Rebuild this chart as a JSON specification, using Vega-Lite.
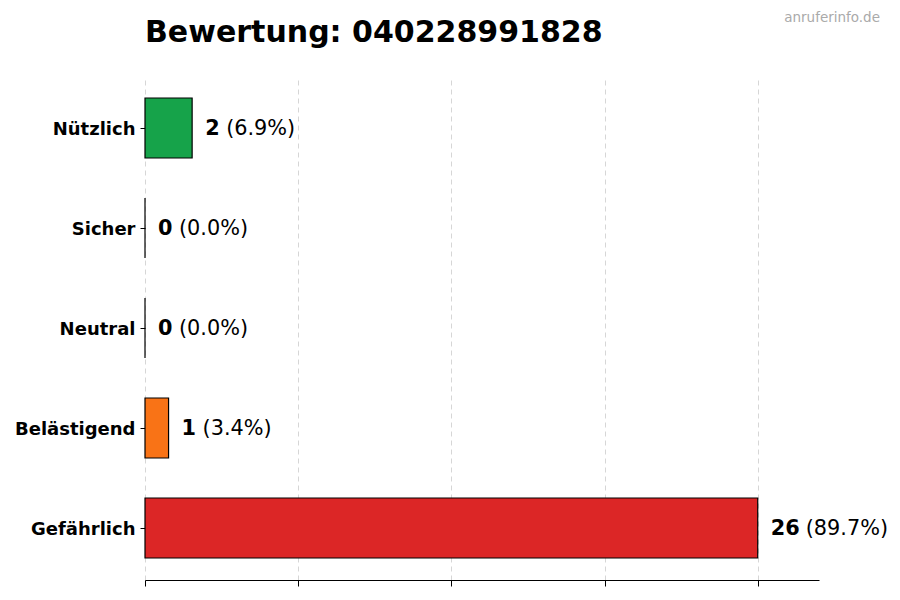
{
  "$schema": "https://vega.github.io/schema/vega-lite/v6.json",
  "width": 674,
  "height": 504,
  "autosize": {"type": "none"},
  "padding": {"left": 145, "top": 76, "right": 81, "bottom": 20},
  "background": "white",
  "title": {
    "text": "Bewertung: 040228991828",
    "anchor": "start",
    "frame": "group",
    "baseline": "alphabetic",
    "offset": 0,
    "dy": 61,
    "font": "DejaVu Sans",
    "fontSize": 30,
    "fontWeight": "bold",
    "color": "black"
  },
  "data": {
    "values": [
      {"kategorie": "Nützlich", "anzahl": 2, "anteil": "(6.9%)"},
      {"kategorie": "Sicher", "anzahl": 0, "anteil": "(0.0%)"},
      {"kategorie": "Neutral", "anzahl": 0, "anteil": "(0.0%)"},
      {"kategorie": "Belästigend", "anzahl": 1, "anteil": "(3.4%)"},
      {"kategorie": "Gefährlich", "anzahl": 26, "anteil": "(89.7%)"}
    ]
  },
  "encoding": {
    "y": {
      "field": "kategorie",
      "type": "nominal",
      "sort": ["Nützlich", "Sicher", "Neutral", "Belästigend", "Gefährlich"],
      "scale": {"paddingInner": 0.4, "paddingOuter": 0.22},
      "axis": {
        "title": null,
        "domain": false,
        "grid": false,
        "ticks": true,
        "tickSize": 5,
        "tickColor": "black",
        "labelPadding": 5,
        "labelFont": "DejaVu Sans",
        "labelFontSize": 18,
        "labelFontWeight": "bold",
        "labelColor": "black",
        "labelBaseline": "middle",
        "labelOffset": 1.5
      }
    },
    "x": {
      "field": "anzahl",
      "type": "quantitative",
      "scale": {"domain": [0, 28.6], "nice": false, "zero": true},
      "axis": {
        "title": null,
        "values": [0, 6.5, 13, 19.5, 26],
        "labels": false,
        "domain": true,
        "domainColor": "black",
        "domainWidth": 1,
        "ticks": true,
        "tickColor": "black",
        "tickSize": 6,
        "grid": true,
        "gridColor": "#cccccc",
        "gridDash": [5, 4],
        "gridWidth": 0.8
      }
    }
  },
  "layer": [
    {
      "mark": {"type": "bar", "stroke": "black", "strokeWidth": 1.2},
      "encoding": {
        "color": {
          "field": "kategorie",
          "type": "nominal",
          "legend": null,
          "scale": {
            "domain": ["Nützlich", "Sicher", "Neutral", "Belästigend", "Gefährlich"],
            "range": ["#16a34a", "#2563eb", "#9ca3af", "#f97316", "#dc2626"]
          }
        }
      }
    },
    {
      "mark": {"type": "text", "align": "left", "baseline": "middle", "dx": 13, "dy": 1, "font": "DejaVu Sans", "fontSize": 20.8, "fontWeight": "bold", "color": "black"},
      "encoding": {"text": {"field": "anzahl", "type": "quantitative"}}
    },
    {
      "transform": [{"filter": "datum.anzahl < 10"}],
      "mark": {"type": "text", "align": "left", "baseline": "middle", "dx": 34, "dy": 1, "font": "DejaVu Sans", "fontSize": 20.8, "color": "black"},
      "encoding": {"text": {"field": "anteil", "type": "nominal"}}
    },
    {
      "transform": [{"filter": "datum.anzahl >= 10"}],
      "mark": {"type": "text", "align": "left", "baseline": "middle", "dx": 48, "dy": 1, "font": "DejaVu Sans", "fontSize": 20.8, "color": "black"},
      "encoding": {"text": {"field": "anteil", "type": "nominal"}}
    },
    {
      "data": {"values": [{"quelle": "anruferinfo.de"}]},
      "mark": {"type": "text", "align": "right", "baseline": "alphabetic", "font": "DejaVu Sans", "fontSize": 13.5, "color": "#aaaaaa"},
      "encoding": {
        "text": {"field": "quelle", "type": "nominal"},
        "x": {"value": 735},
        "y": {"value": -54}
      }
    }
  ],
  "config": {
    "view": {"stroke": null},
    "text": {"font": "DejaVu Sans"}
  }
}
